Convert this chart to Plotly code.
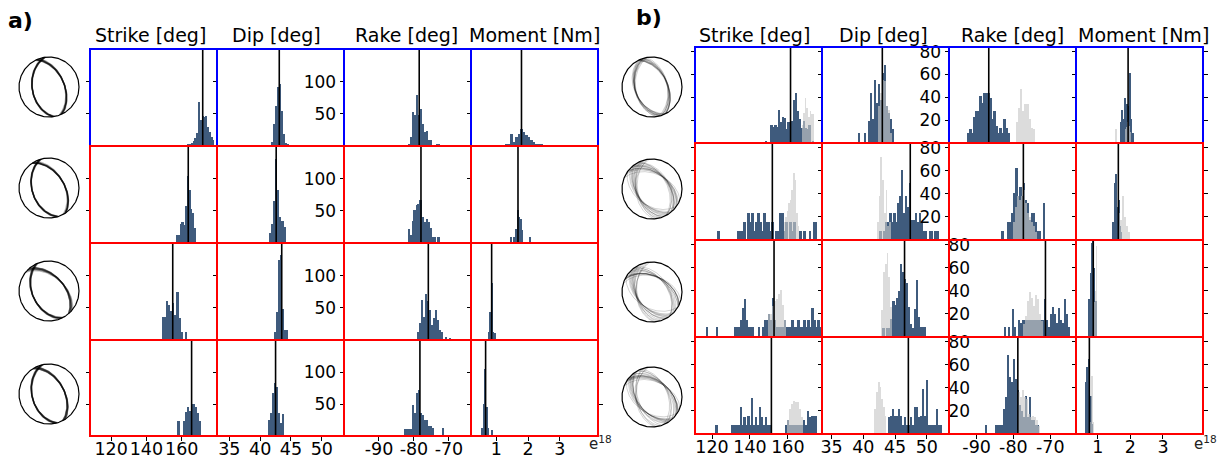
import numpy as np
import plotly.graph_objects as go

W, H = 1225, 457

# ------------------------------------------------------------------ data
COLUMN_TITLES = ["Strike [deg]", "Dip [deg]", "Rake [deg]", "Moment [Nm]"]
PANEL_LABELS = ["a)", "b)"]

STRIKE_TICKS = [120, 140, 160]
DIP_TICKS = [35, 40, 45, 50]
RAKE_TICKS = [-90, -80, -70]
RAKE_TICK_LABELS = ["-90", "-80", "-70"]
MOMENT_TICKS = [1, 2, 3]
A_COUNT_TICKS = [50, 100]
B_COUNT_TICKS = [20, 40, 60, 80]

# ---- panel a (rows 1..4); histogram = first bin edge, bin width, counts
A_STRIKE_START = [163.5, 157.1, 148.6, 157.75]
A_STRIKE_WIDTH = [1.0, 1.0, 1.2, 1.1]
A_STRIKE_COUNTS = [
    [2, 3, 5, 8, 12, 20, 68, 40, 46, 45, 46, 30, 22, 14, 9],
    [12, 12, 30, 33, 28, 57, 104, 82, 53, 46, 24],
    [36, 36, 60, 55, 45, 57, 39, 75, 34, 13, 0, 13],
    [24, 0, 0, 23, 38, 46, 40, 51, 51, 46, 36, 23],
]
A_REF_STRIKE = [171.9, 163.7, 154.9, 165.6]

A_DIP_START = [41.7, 41.48, 42.24, 41.27]
A_DIP_WIDTH = [0.33, 0.33, 0.33, 0.33]
A_DIP_COUNTS = [
    [6, 35, 63, 92, 97, 55, 19, 4, 3],
    [15, 30, 66, 130, 83, 40, 35, 25],
    [13, 44, 125, 132, 49, 16, 16],
    [25, 36, 67, 83, 77, 36, 20, 35],
]
A_REF_DIP = [43.1, 42.6, 43.5, 42.5]

A_RAKE_START = [-81.6, -81.8, -79.1, -82.8]
A_RAKE_WIDTH = [0.57, 0.57, 0.57, 0.57]
A_RAKE_COUNTS = [
    [2, 14, 53, 49, 80, 48, 58, 35, 22, 24, 9, 9, 0, 0, 3, 3],
    [22, 12, 35, 51, 59, 60, 67, 40, 33, 38, 33, 24, 9, 9, 0, 9],
    [13, 26, 62, 36, 72, 60, 47, 23, 34, 47, 31, 16, 13, 0, 5, 0, 3],
    [11, 11, 11, 11, 48, 36, 67, 72, 36, 33, 25, 25, 15, 15, 12, 0, 0, 0, 0, 12],
]
A_REF_RAKE = [-78.5, -78.0, -75.9, -78.3]

A_MOMENT_START = [0.95, 1.45, 0.75, 0.53]   # x 1e18 Nm
A_MOMENT_WIDTH = [0.08, 0.05, 0.04, 0.05]
A_MOMENT_COUNTS = [
    [1, 0, 1, 1, 2, 3, 19, 6, 14, 19, 27, 22, 17, 14, 9, 6, 3, 3, 2, 1],
    [9, 0, 9, 22, 51, 40, 38, 20, 0, 0, 0, 0, 9],
    [13, 44, 88, 13, 0, 11],
    [12, 51, 106, 46, 12, 0, 10],
]
A_REF_MOMENT = [1.79, 1.68, 0.85, 0.66]

# ---- panel b (dark = inversion result, grey = comparison distribution)
B_STRIKE_START = [148.0, 123.1, 117.0, 121.9]
B_STRIKE_WIDTH = [1.0, 1.05, 1.05, 1.05]
B_STRIKE_COUNTS = [
    [2, 0, 0, 16, 14, 16, 14, 29, 18, 23, 22, 12, 18, 15, 19, 38, 44, 28, 21, 13, 19, 13, 12, 16, 0, 2],
    [8, 0, 0, 0, 0, 0, 0, 0, 0, 0, 8, 8, 8, 16, 0, 23, 16, 23, 8, 16, 23, 16, 8, 23, 16, 16, 8, 16, 0, 8,
     8, 23, 23, 8, 16, 0, 16, 8, 16, 0, 0, 8, 0, 8, 0, 0, 8, 0, 16, 16],
    [9, 0, 0, 0, 0, 9, 0, 0, 0, 0, 0, 0, 0, 0, 9, 9, 9, 15, 25, 33, 15, 9, 9, 9, 0, 0, 9, 0, 9, 15,
     15, 20, 15, 34, 15, 9, 9, 9, 9, 15, 9, 9, 9, 15, 9, 9, 15, 9, 9, 15, 9, 15, 9, 25, 15, 9, 15, 9],
    [8, 0, 0, 0, 0, 0, 0, 0, 8, 8, 8, 8, 23, 8, 15, 8, 16, 8, 31, 8, 15, 8, 23, 15, 8, 15, 8, 8, 0, 0,
     0, 0, 0, 0, 0, 8, 12, 8, 8, 8, 8, 8, 8, 8, 12, 8, 20, 15, 16, 16, 16],
]
B_REF_STRIKE = [161.4, 151.8, 152.7, 151.3]
B_STRIKE_GREY_START = [167.2, 157.9, 149.5, 159.5]
B_STRIKE_GREY_WIDTH = [0.85, 0.8, 1.05, 1.05]
B_STRIKE_GREY = [
    [16, 26, 39, 31, 23, 28, 25, 25],
    [16, 20, 25, 32, 35, 43, 58, 52, 23, 12],
    [20, 20, 27, 31, 33, 37, 41, 28, 15],
    [12, 22, 26, 29, 28, 28, 22, 15],
]

B_DIP_START = [39.25, 42.61, 42.75, 43.95]
B_DIP_WIDTH = [0.31, 0.31, 0.31, 0.315]
B_DIP_COUNTS = [
    [9, 0, 0, 9, 0, 19, 44, 21, 55, 35, 52, 38, 61, 68, 32, 26, 21, 12],
    [8, 0, 8, 16, 16, 23, 16, 23, 16, 32, 38, 61, 23, 38, 29, 49, 17, 17, 23, 16, 23, 16, 8, 8, 0, 8, 8, 0, 8, 8],
    [0, 8, 0, 8, 8, 16, 31, 28, 34, 40, 63, 56, 50, 47, 26, 11, 8, 24, 49, 17, 9, 9, 9],
    [15, 16, 22, 16, 16, 22, 16, 8, 15, 8, 8, 15, 8, 23, 23, 15, 16, 39, 16, 47, 8, 8, 8, 8, 22, 8, 8],
]
B_REF_DIP = [43.0, 47.4, 46.5, 47.1]
B_DIP_GREY_START = [42.35, 42.15, 42.85, 41.75]
B_DIP_GREY_WIDTH = [0.3, 0.27, 0.27, 0.27]
B_DIP_GREY = [
    [32, 44, 55, 54, 32, 29, 9],
    [16, 38, 72, 52, 23, 43, 12, 16],
    [23, 56, 63, 73, 52, 26],
    [22, 36, 45, 41, 30, 23, 16],
]

B_RAKE_START = [-92.4, -83.2, -82.6, -87.7]
B_RAKE_WIDTH = [0.54, 0.54, 0.545, 0.545]
B_RAKE_COUNTS = [
    [9, 12, 9, 23, 28, 28, 41, 35, 44, 44, 44, 39, 21, 28, 15, 9, 13, 9, 21, 13, 9],
    [8, 0, 0, 16, 16, 23, 41, 62, 38, 46, 38, 49, 35, 32, 17, 23, 23, 16, 8, 8, 0, 32],
    [9, 0, 9, 0, 24, 9, 0, 15, 12, 15, 15, 15, 15, 15, 15, 15, 15, 15, 15, 15, 33, 15, 9, 20, 26, 20, 12, 25,
     15, 12, 33, 20, 9],
    [8, 0, 0, 0, 0, 8, 8, 8, 8, 22, 32, 68, 49, 45, 65, 48, 38, 25, 20, 15, 33, 15, 32, 12, 12, 8, 8],
]
B_REF_RAKE = [-86.7, -77.3, -71.3, -78.8]
B_RAKE_GREY_START = [-79.2, -80.0, -77.4, -78.8]
B_RAKE_GREY_WIDTH = [0.55, 0.54, 0.545, 0.545]
B_RAKE_GREY = [
    [18, 31, 47, 28, 34, 34, 21, 13, 12],
    [16, 29, 38, 35, 38, 43, 32, 23, 20, 16, 12, 7],
    [11, 18, 31, 39, 34, 27, 36, 33, 20, 14],
    [36, 32, 38, 32, 30, 17, 15, 16, 15, 12, 7],
]

B_MOMENT_START = [1.70, 1.46, 0.72, 0.62]
B_MOMENT_WIDTH = [0.035, 0.04, 0.04, 0.04]
B_MOMENT_COUNTS = [
    [18, 29, 21, 39, 18, 34, 32, 26, 61, 21, 9],
    [16, 49, 57, 29, 35, 12, 7],
    [33, 55, 81, 84, 60, 31],
    [45, 58, 65, 28, 33, 9],
]
B_REF_MOMENT = [1.93, 1.63, 0.86, 0.74]
B_MOMENT_GREY_START = [1.54, 1.63, 0.86, 0.76]
B_MOMENT_GREY_WIDTH = [0.035, 0.06, 0.04, 0.04]
B_MOMENT_GREY = [
    [12, 0, 0, 0, 0, 0, 0, 0, 12, 14, 18, 20, 15, 10],
    [23, 17, 38, 20, 12, 7, 0, 0, 0, 0, 0, 0, 0, 0, 0, 0, 1],
    [30, 40, 79],
    [10, 50, 10],
]

# ---- beachball samples (strike, dip, rake) per row
A_BB_STRIKE = [
    [170, 171, 172, 173, 174, 169, 171.5, 172.5],
    [162, 163, 164, 161, 165, 163.5, 162.5, 166],
    [153, 154, 155, 156, 157.5, 152, 155.5, 158.5],
    [163, 164, 165, 166, 167, 168, 165.5, 169],
]
A_BB_DIP = [
    [43, 42.7, 43.2, 43.5, 42.8, 43.0, 43.3, 42.9],
    [42.5, 42.8, 42.3, 43, 42.6, 42.4, 42.9, 42.7],
    [43.4, 43.6, 43.3, 43.8, 43.5, 43.2, 43.7, 43.4],
    [42.3, 42.6, 42.5, 42.9, 42.2, 42.7, 42.4, 43.1],
]
A_BB_RAKE = [
    [-79, -78, -78.5, -77.5, -79.5, -78, -80, -77],
    [-78, -79, -77, -80, -76, -78.5, -77.5, -79.5],
    [-76, -75, -77, -74, -76.5, -73, -78, -75.5],
    [-79, -78, -77, -80, -78.5, -76, -81, -77.5],
]
B_BB_STRIKE = [
    [152, 155, 158, 160, 162, 164, 165, 167, 170, 172, 156, 163],
    [125, 135, 140, 145, 148, 152, 156, 160, 164, 168, 172, 176, 142, 158],
    [120, 133, 137, 140, 146, 150, 152.5, 155, 160, 165, 170, 174, 177, 143],
    [122, 131, 135, 139, 141, 145.5, 148, 151, 160, 165, 171, 174, 144, 137],
]
B_BB_DIP = [
    [41, 42, 43, 43.5, 42.5, 44, 41.5, 43, 42, 44.5, 43.3, 42.8],
    [44, 45.5, 46, 47, 46.5, 48, 45, 49, 47.5, 46.2, 50, 44.8, 48.5, 47.2],
    [45, 46, 46.5, 47, 48.5, 45.5, 46.3, 47.8, 46, 44.8, 48.8, 46.7, 45.8, 47.3],
    [44.5, 45, 46, 48.5, 49.5, 50, 47, 46.3, 51.5, 45.5, 48, 44.8, 50.2, 47.6],
]
B_BB_RAKE = [
    [-90, -88, -86, -85, -89, -84, -87, -91, -86, -83, -88.5, -85.5],
    [-80, -79, -78, -77.5, -76, -79.5, -75, -78, -74, -77, -76.5, -73, -78.5, -75.5],
    [-80, -77, -75, -72, -70, -68, -73, -66, -71, -69, -74, -67, -65, -71.5],
    [-82, -81, -80, -79.5, -79, -78, -77, -81.5, -76, -80.5, -75, -78.5, -79.8, -80.2],
]

# ------------------------------------------------------------------ styling / geometry
FONT = "DejaVu Sans"
BLUE_BAR = "#3f5b7d"
GREY_BAR = "rgba(200,200,200,0.64)"
FRAME_TOP = "#0000ff"
FRAME_OTHER = "#ff0000"

PANELS = [
    dict(colx=[90, 217, 344, 471, 598], rowy=[49, 146, 243, 340, 436],
         xr=[[108, 180], [33, 53.6], [-100, -63.7], [0.2, 4.2]], yr=[0, 151],
         yt=A_COUNT_TICKS,
         bbx=49, bby=[87, 188, 291, 394], titles_x=[150, 276, 406, 534],
         label_xy=(20, 20), inside_rows=[],
         hist=[(A_STRIKE_START, A_STRIKE_WIDTH, A_STRIKE_COUNTS, A_REF_STRIKE),
               (A_DIP_START, A_DIP_WIDTH, A_DIP_COUNTS, A_REF_DIP),
               (A_RAKE_START, A_RAKE_WIDTH, A_RAKE_COUNTS, A_REF_RAKE),
               (A_MOMENT_START, A_MOMENT_WIDTH, A_MOMENT_COUNTS, A_REF_MOMENT)],
         grey=None,
         bb=(A_BB_STRIKE, A_BB_DIP, A_BB_RAKE), bbcol="rgba(0,0,0,0.30)", bbw=1.4),
    dict(colx=[695, 822, 949, 1076, 1203], rowy=[47, 143, 240, 337, 434],
         xr=[[111, 178], [33.5, 53.5], [-97.5, -63], [0.33, 4.23]], yr=[0, 84],
         yt=B_COUNT_TICKS,
         bbx=652, bby=[87, 189, 292, 397], titles_x=[755, 883, 1012, 1143],
         label_xy=(649, 18), inside_rows=[2, 3],
         hist=[(B_STRIKE_START, B_STRIKE_WIDTH, B_STRIKE_COUNTS, B_REF_STRIKE),
               (B_DIP_START, B_DIP_WIDTH, B_DIP_COUNTS, B_REF_DIP),
               (B_RAKE_START, B_RAKE_WIDTH, B_RAKE_COUNTS, B_REF_RAKE),
               (B_MOMENT_START, B_MOMENT_WIDTH, B_MOMENT_COUNTS, B_REF_MOMENT)],
         grey=[(B_STRIKE_GREY_START, B_STRIKE_GREY_WIDTH, B_STRIKE_GREY),
               (B_DIP_GREY_START, B_DIP_GREY_WIDTH, B_DIP_GREY),
               (B_RAKE_GREY_START, B_RAKE_GREY_WIDTH, B_RAKE_GREY),
               (B_MOMENT_GREY_START, B_MOMENT_GREY_WIDTH, B_MOMENT_GREY)],
         bb=(B_BB_STRIKE, B_BB_DIP, B_BB_RAKE), bbcol="rgba(0,0,0,0.22)", bbw=0.8),
]
XTICKS = [STRIKE_TICKS, DIP_TICKS, RAKE_TICKS, MOMENT_TICKS]
XTICKTEXT = [None, None, RAKE_TICK_LABELS, None]

layout = dict(width=W, height=H, margin=dict(l=0, r=0, t=0, b=0, autoexpand=False),
              paper_bgcolor="white", plot_bgcolor="white", showlegend=False,
              barmode="overlay", bargap=0,
              font=dict(family=FONT, size=17, color="black"))
traces, shapes_blue, shapes_red, lines, annotations = [], [], [], [], []
counter = [0]


def new_axes(x0, x1, y0, y1, xkw, ykw):
    counter[0] += 1
    n = counter[0]
    sfx = "" if n == 1 else str(n)
    layout["xaxis" + sfx] = dict(domain=[x0 / W, x1 / W], anchor="y" + sfx, automargin=False, **xkw)
    layout["yaxis" + sfx] = dict(domain=[1 - y1 / H, 1 - y0 / H], anchor="x" + sfx, automargin=False, **ykw)
    return "x" + sfx, "y" + sfx


def bars(start, width, counts, color, xr, yr):
    centers = [start + width * (i + 0.5) for i in range(len(counts))]
    return go.Bar(x=centers, y=counts, width=[width] * len(counts), xaxis=xr, yaxis=yr,
                  marker=dict(color=color, line=dict(width=0)), hoverinfo="skip")


def plane_curve(strike, dip, n=80):
    s, d = np.radians(strike), np.radians(dip)
    t = np.linspace(0, np.pi, n)
    sv = np.array([np.cos(s), np.sin(s), 0.0])
    dd = s + np.pi / 2
    dv = np.array([np.cos(d) * np.cos(dd), np.cos(d) * np.sin(dd), np.sin(d)])
    v = np.outer(np.cos(t), sv) + np.outer(np.sin(t), dv)
    plunge = np.arcsin(np.clip(v[:, 2], -1, 1))
    az = np.arctan2(v[:, 1], v[:, 0])
    r = np.sqrt(2) * np.sin((np.pi / 2 - plunge) / 2)
    return r * np.sin(az), r * np.cos(az)


def aux_plane(strike, dip, rake):
    s, d, l = np.radians(strike), np.radians(dip), np.radians(rake)
    u = np.array([np.cos(l) * np.cos(s) + np.cos(d) * np.sin(l) * np.sin(s),
                  np.cos(l) * np.sin(s) - np.cos(d) * np.sin(l) * np.cos(s),
                  -np.sin(l) * np.sin(d)])
    if u[2] > 0:
        u = -u
    return np.degrees(np.arctan2(-u[0], u[1])) % 360, np.degrees(np.arccos(np.clip(-u[2], -1, 1)))


for p_i, P in enumerate(PANELS):
    colx, rowy = P["colx"], P["rowy"]
    for r in range(4):
        bottom = r == 3
        # beachball
        half = 33
        bx, by = new_axes(P["bbx"] - half, P["bbx"] + half, P["bby"][r] - half, P["bby"][r] + half,
                          dict(range=[-1.1, 1.1], visible=False, fixedrange=True),
                          dict(range=[-1.1, 1.1], visible=False, fixedrange=True))
        ss, dd, rr = P["bb"][0][r], P["bb"][1][r], P["bb"][2][r]
        for k in range(len(ss)):
            for (st, dp) in [(ss[k], dd[k]), aux_plane(ss[k], dd[k], rr[k])]:
                cx, cy = plane_curve(st, dp)
                traces.append(go.Scatter(x=cx, y=cy, mode="lines", xaxis=bx, yaxis=by,
                                         line=dict(color=P["bbcol"], width=P["bbw"]), hoverinfo="skip"))
        th = np.linspace(0, 2 * np.pi, 200)
        traces.append(go.Scatter(x=np.cos(th), y=np.sin(th), mode="lines", xaxis=bx, yaxis=by,
                                 line=dict(color="black", width=1.2), hoverinfo="skip"))
        # histograms
        for c in range(4):
            xkw = dict(range=P["xr"][c], showgrid=False, zeroline=False, showline=False,
                       tickvals=XTICKS[c], ticks="outside" if bottom else "", ticklen=3.5,
                       tickwidth=1, tickcolor="black", showticklabels=bottom, tickangle=0,
                       ticklabelstandoff=-7,
                       tickfont=dict(size=17.5, family=FONT), fixedrange=True)
            if XTICKTEXT[c] is not None:
                xkw["ticktext"] = XTICKTEXT[c]
            ykw = dict(range=P["yr"], showgrid=False, zeroline=False, showline=False,
                       tickvals=P["yt"], ticks="outside", ticklen=3.5, tickangle=0,
                       tickwidth=1, tickcolor="black", showticklabels=(c == 2),
                       tickfont=dict(size=17, family=FONT), fixedrange=True)
            if c == 2 and r in P["inside_rows"]:
                ykw["ticklabelstandoff"] = -29
            if c == 3:
                ykw["mirror"] = "ticks"
            xr_, yr_ = new_axes(colx[c], colx[c + 1], rowy[r], rowy[r + 1], xkw, ykw)
            st, wd, cn, ref = P["hist"][c]
            traces.append(bars(st[r], wd[r], cn[r], BLUE_BAR, xr_, yr_))
            if P["grey"] is not None:
                gs, gw, gc = P["grey"][c]
                traces.append(bars(gs[r], gw[r], gc[r], GREY_BAR, xr_, yr_))
            lines.append(dict(type="line", xref=xr_, yref=yr_ + " domain", x0=ref[r], x1=ref[r],
                              y0=0, y1=1, line=dict(color="black", width=1.6)))
            frame = dict(type="rect", xref=xr_ + " domain", yref=yr_ + " domain", x0=0, x1=1, y0=0, y1=1,
                         line=dict(color=FRAME_TOP if r == 0 else FRAME_OTHER, width=2))
            (shapes_blue if r == 0 else shapes_red).append(frame)
            if r == 0:
                annotations.append(dict(text=COLUMN_TITLES[c], xref="paper", yref="paper",
                                        x=P["titles_x"][c] / W, y=1 - 35 / H, showarrow=False,
                                        xanchor="center", yanchor="middle",
                                        font=dict(size=19, family=FONT, color="black")))
    annotations.append(dict(text="<b>%s</b>" % PANEL_LABELS[p_i], xref="paper", yref="paper",
                            x=P["label_xy"][0] / W, y=1 - P["label_xy"][1] / H, showarrow=False,
                            xanchor="center", yanchor="middle",
                            font=dict(size=22, family=FONT, color="black")))
    annotations.append(dict(text="e<sup>18</sup>", xref="paper", yref="paper",
                            x=(colx[4] + 2) / W, y=1 - 443 / H, showarrow=False,
                            xanchor="center", yanchor="middle",
                            font=dict(size=15, family=FONT, color="#222222")))

layout["shapes"] = lines + shapes_blue + shapes_red
layout["annotations"] = annotations
fig = go.Figure(data=traces, layout=layout)
fig.write_html("out.html", config={"displayModeBar": False},
               post_script="document.body.style.margin='0';document.body.style.padding='0';")
